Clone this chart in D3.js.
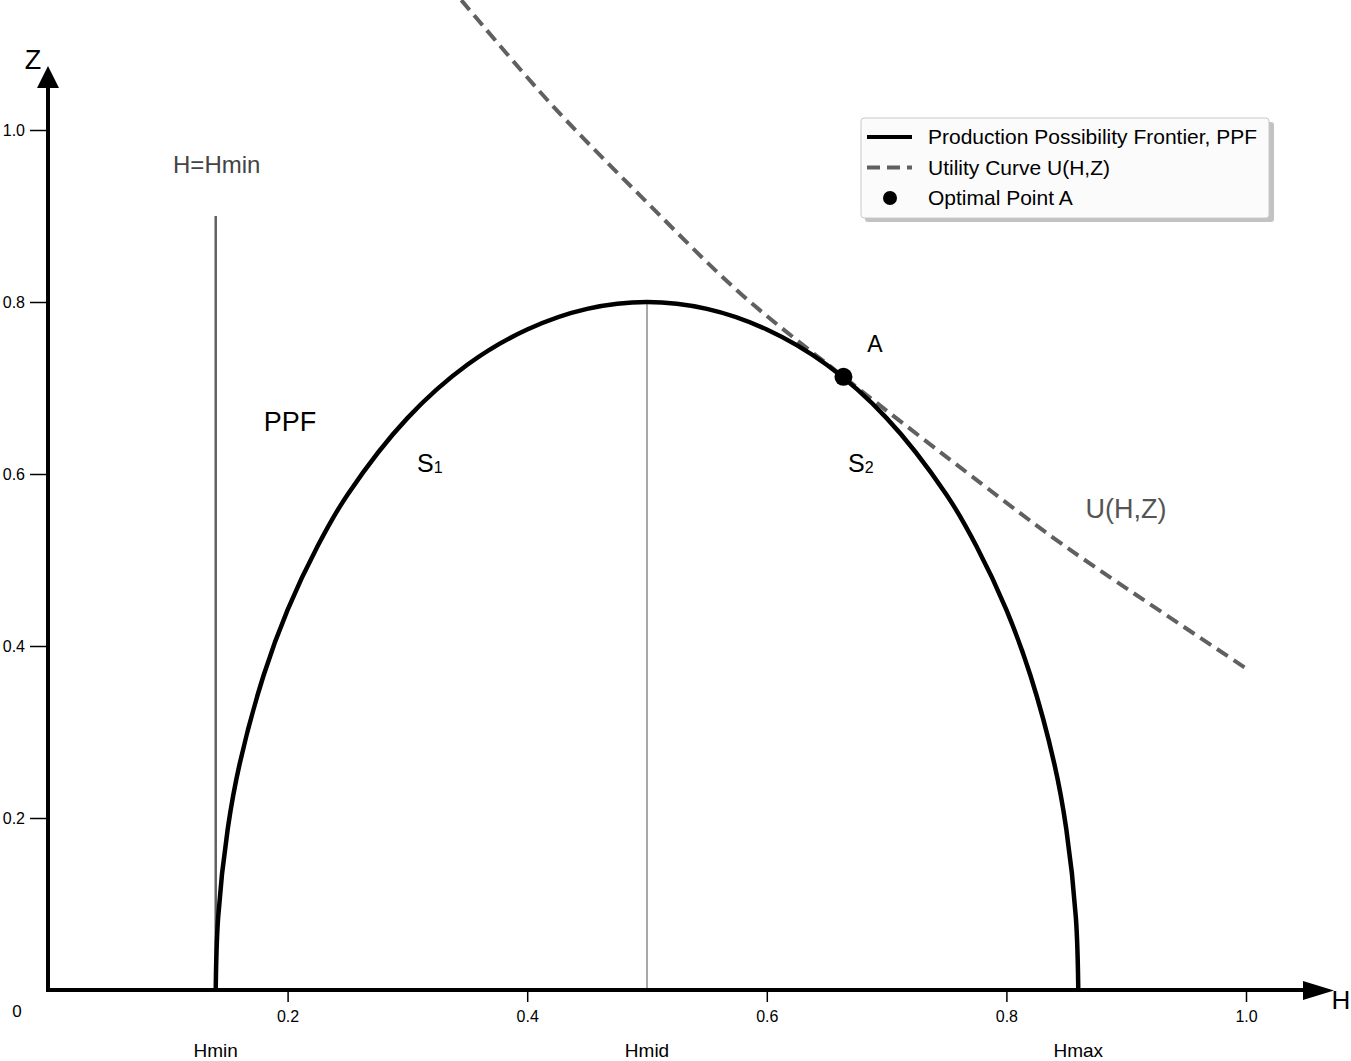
<!DOCTYPE html>
<html>
<head>
<meta charset="utf-8">
<script src="https://cdn.jsdelivr.net/npm/d3@7"></script>
<style>
  body { margin: 0; background: #fff; }
  text { font-family: "Liberation Sans", Arial, sans-serif; }
</style>
</head>
<body>
<div id="chart"></div>
<script>
// tick values
var xTicks = [0.2, 0.4, 0.6, 0.8, 1.0];
var yTicks = [0.2, 0.4, 0.6, 0.8, 1.0];

// production possibility frontier
var ppfH = [0.14, 0.142, 0.15, 0.16, 0.18, 0.2, 0.225, 0.25, 0.3, 0.35, 0.4, 0.45, 0.5,
            0.55, 0.6, 0.65, 0.7, 0.75, 0.775, 0.8, 0.82, 0.84, 0.85, 0.858, 0.86];
var ppfZ = [0, 0.084, 0.187, 0.263, 0.366, 0.442, 0.516, 0.576, 0.665, 0.727, 0.768, 0.792, 0.8,
            0.792, 0.768, 0.727, 0.665, 0.576, 0.516, 0.442, 0.366, 0.263, 0.187, 0.084, 0];

// utility curve
var utilH = [0.345, 0.42, 0.497, 0.578, 0.664, 0.778, 0.838, 0.878, 1.0];
var utilZ = [1.151, 1.03, 0.92, 0.81, 0.713, 0.59, 0.527, 0.488, 0.374];

// optimal point A
var pointA = [0.664, 0.713];

// reference lines
var hMin = 0.14, hMid = 0.5, hMax = 0.86;
var hMinTop = 0.9;
var hMidTop = 0.8;

var markNames = ["Hmin", "Hmid", "Hmax"];
var markValues = [hMin, hMid, hMax];

var legendNames = ["Production Possibility Frontier, PPF", "Utility Curve U(H,Z)", "Optimal Point A"];

function init() {
    var w = 1351;
    var h = 1061;

    var x = d3.scaleLinear().domain([0, 1]).range([48, 1246]);
    var y = d3.scaleLinear().domain([0, 1]).range([990, 130]);

    var svg = d3.select("#chart")
                .append("svg")
                .attr("width", w)
                .attr("height", h);

    var line = d3.line()
                 .x(function(d){ return x(d[0]); })
                 .y(function(d){ return y(d[1]); })
                 .curve(d3.curveCatmullRom.alpha(0.5));

    // H = Hmin line
    svg.append("line")
       .attr("x1", x(hMin)).attr("x2", x(hMin))
       .attr("y1", y(0)).attr("y2", y(hMinTop))
       .style("stroke", "#606060")
       .style("stroke-width", 2.5);

    // Hmid line
    svg.append("line")
       .attr("x1", x(hMid)).attr("x2", x(hMid))
       .attr("y1", y(0)).attr("y2", y(hMidTop))
       .style("stroke", "#a8a8a8")
       .style("stroke-width", 2);

    // utility curve
    var utilData = utilH.map(function(v, i){ return [v, utilZ[i]]; });
    svg.append("path")
       .attr("d", line(utilData))
       .style("fill", "none")
       .style("stroke", "#606060")
       .style("stroke-width", 4)
       .style("stroke-dasharray", "13,7");

    // PPF
    var ppfData = ppfH.map(function(v, i){ return [v, ppfZ[i]]; });
    svg.append("path")
       .attr("d", line(ppfData))
       .style("fill", "none")
       .style("stroke", "#000")
       .style("stroke-width", 4.5);

    // point A
    svg.append("circle")
       .attr("cx", x(pointA[0]))
       .attr("cy", y(pointA[1]))
       .attr("r", 9)
       .style("fill", "#000");

    // axes with ticks
    var xAxis = d3.axisBottom(x).tickValues(xTicks).tickSize(12).tickPadding(9)
                  .tickFormat(d3.format(".1f"));
    var gx = svg.append("g").attr("transform", "translate(0," + y(0) + ")").call(xAxis);
    gx.select(".domain").remove();
    gx.selectAll(".tick line").style("stroke", "#000").style("stroke-width", 1.5);
    gx.selectAll(".tick text").style("font-size", "16px").style("fill", "#000");

    var yAxis = d3.axisLeft(y).tickValues(yTicks).tickSize(18).tickPadding(5)
                  .tickFormat(d3.format(".1f"));
    var gy = svg.append("g").attr("transform", "translate(" + x(0) + ",0)").call(yAxis);
    gy.select(".domain").remove();
    gy.selectAll(".tick line").style("stroke", "#000").style("stroke-width", 1.5);
    gy.selectAll(".tick text").style("font-size", "16px").style("fill", "#000");

    // axis lines and arrows
    svg.append("line")
       .attr("x1", x(0) - 2).attr("x2", 1310)
       .attr("y1", y(0)).attr("y2", y(0))
       .style("stroke", "#000").style("stroke-width", 4);
    svg.append("path")
       .attr("d", "M1303,981 L1334,990.5 L1303,1000 Z")
       .style("fill", "#000");

    svg.append("line")
       .attr("x1", x(0)).attr("x2", x(0))
       .attr("y1", y(0) + 2).attr("y2", 85)
       .style("stroke", "#000").style("stroke-width", 4);
    svg.append("path")
       .attr("d", "M37,88 L48,66 L59,88 Z")
       .style("fill", "#000");

    svg.append("text").attr("x", 33).attr("y", 69).attr("text-anchor", "middle")
       .style("font-size", "27px").text("Z");
    svg.append("text").attr("x", 1341).attr("y", 1009).attr("text-anchor", "middle")
       .style("font-size", "26px").text("H");
    svg.append("text").attr("x", 17).attr("y", 1017).attr("text-anchor", "middle")
       .style("font-size", "17px").text("0");

    // Hmin, Hmid, Hmax labels
    svg.selectAll(".mark")
       .data(markNames)
       .enter()
       .append("text")
       .attr("class", "mark")
       .attr("x", function(d, i){ return x(markValues[i]); })
       .attr("y", 1057)
       .attr("text-anchor", "middle")
       .style("font-size", "19px")
       .text(function(d){ return d; });

    // annotations
    svg.append("text").attr("x", x(hMin) + 1).attr("y", 173).attr("text-anchor", "middle")
       .style("font-size", "24px").style("fill", "#444").text("H=Hmin");
    svg.append("text").attr("x", 290).attr("y", 431).attr("text-anchor", "middle")
       .style("font-size", "27px").text("PPF");

    var s1 = svg.append("text").attr("x", 417).attr("y", 472).style("font-size", "25px");
    s1.append("tspan").text("S");
    s1.append("tspan").attr("dy", 1).style("font-size", "16px").text("1");
    var s2 = svg.append("text").attr("x", 848).attr("y", 472).style("font-size", "25px");
    s2.append("tspan").text("S");
    s2.append("tspan").attr("dy", 1).style("font-size", "16px").text("2");

    svg.append("text").attr("x", 875).attr("y", 352).attr("text-anchor", "middle")
       .style("font-size", "23px").text("A");
    svg.append("text").attr("x", 1126).attr("y", 518).attr("text-anchor", "middle")
       .style("font-size", "27px").style("fill", "#555").text("U(H,Z)");

    // legend
    var lg = svg.append("g").attr("transform", "translate(861,118)");
    lg.append("rect")
      .attr("x", 4).attr("y", 4).attr("width", 409).attr("height", 100).attr("rx", 3)
      .style("fill", "#999").style("opacity", 0.6);
    lg.append("rect")
      .attr("x", 0).attr("y", 0).attr("width", 408).attr("height", 100).attr("rx", 3)
      .style("fill", "#fbfbfb").style("stroke", "#c8c8c8").style("stroke-width", 1);

    var rows = lg.selectAll(".row")
                 .data(legendNames)
                 .enter()
                 .append("g")
                 .attr("class", "row")
                 .attr("transform", function(d, i){ return "translate(0," + (19 + i * 30.5) + ")"; });
    rows.append("text")
        .attr("x", 67).attr("y", 7)
        .style("font-size", "21px")
        .text(function(d){ return d; });

    lg.append("line").attr("x1", 6).attr("x2", 51).attr("y1", 19).attr("y2", 19)
      .style("stroke", "#000").style("stroke-width", 4);
    lg.append("line").attr("x1", 6).attr("x2", 51).attr("y1", 49.5).attr("y2", 49.5)
      .style("stroke", "#606060").style("stroke-width", 4).style("stroke-dasharray", "13,7");
    lg.append("circle").attr("cx", 29).attr("cy", 80).attr("r", 7).style("fill", "#000");
}

window.onload = init;
</script>
</body>
</html>
